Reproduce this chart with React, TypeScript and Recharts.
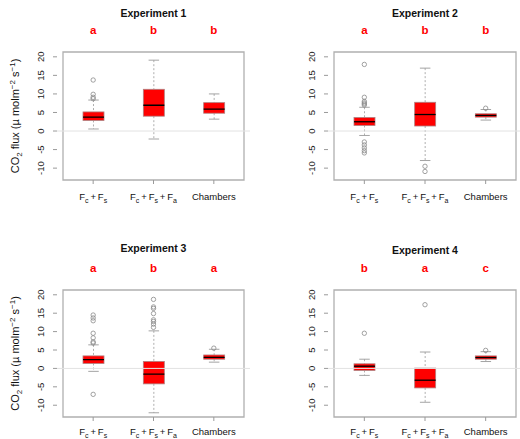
import React from "react";
import {
  ComposedChart,
  Bar,
  Scatter,
  XAxis,
  YAxis,
  ReferenceLine,
  ReferenceArea,
} from "recharts";

const FONT = "'Liberation Sans', Arial, Helvetica, sans-serif";

const categories = ["Fc+Fs", "Fc+Fs+Fa", "Chambers"];
const yTicks = [-10, -5, 0, 5, 10, 15, 20];
const yDomain: [number, number] = [-13.2, 21.3];

// [lower whisker, q1, median, q3, upper whisker] per category
const exp1Box = [
  [0.55, 2.85, 3.75, 5.15, 8.35],
  [-2.15, 4.0, 6.95, 11.25, 19.1],
  [3.2, 4.8, 5.9, 7.65, 10.0],
];
const exp1Outliers = [[13.75, 9.9, 9.1, 8.7], [], []];
const exp1Letters = ["a", "b", "b"];

const exp2Box = [
  [-1.2, 1.5, 2.5, 3.65, 6.4],
  [-7.95, 1.35, 4.45, 7.75, 16.95],
  [2.95, 3.75, 4.2, 4.65, 5.8],
];
const exp2Outliers = [
  [17.95, 9.1, 8.0, 7.6, 7.3, 7.0, -2.95, -3.75, -4.55, -5.3, -5.9],
  [-9.5, -10.9],
  [6.15],
];
const exp2Letters = ["a", "b", "b"];

const exp3Box = [
  [-0.8, 1.35, 2.4, 3.4, 6.4],
  [-12.05, -4.2, -1.55, 1.9, 10.2],
  [1.7, 2.5, 3.0, 3.65, 5.2],
];
const exp3Outliers = [
  [14.5, 13.7, 12.95, 9.55, 8.3, 7.2, 6.9, -7.05],
  [18.75, 16.7, 16.3, 14.9, 13.2, 12.75, 12.05, 11.15],
  [5.5],
];
const exp3Letters = ["a", "b", "a"];

const exp4Box = [
  [-1.9, -0.55, 0.6, 1.25, 2.5],
  [-9.2, -5.3, -3.2, 0.08, 4.45],
  [1.87, 2.5, 2.95, 3.4, 4.55],
];
const exp4Outliers = [[9.55], [17.3], [4.9]];
const exp4Letters = ["b", "a", "c"];

const GREY = "#9a9a9a";

function BoxShape(props: any) {
  const { x, y, width, height, payload } = props;
  if (!payload) return null;
  const top = Math.min(y, y + height);
  const h = Math.abs(height);
  const { lo, q1, med, q3, hi } = payload;
  const k = h / (hi - lo);
  const py = (v: number) => top + (hi - v) * k;
  const cx = x + width / 2;
  const cap = width / 4;
  return (
    <g>
      <line x1={cx} x2={cx} y1={py(hi)} y2={py(q3)} stroke={GREY} strokeWidth={0.8} strokeDasharray="2 2" />
      <line x1={cx} x2={cx} y1={py(q1)} y2={py(lo)} stroke={GREY} strokeWidth={0.8} strokeDasharray="2 2" />
      <line x1={cx - cap} x2={cx + cap} y1={py(hi)} y2={py(hi)} stroke={GREY} strokeWidth={0.9} />
      <line x1={cx - cap} x2={cx + cap} y1={py(lo)} y2={py(lo)} stroke={GREY} strokeWidth={0.9} />
      <rect x={x} y={py(q3)} width={width} height={py(q1) - py(q3)} fill="#ff0000" stroke="#b08080" strokeWidth={0.8} />
      <line x1={x} x2={x + width} y1={py(med)} y2={py(med)} stroke="#000" strokeWidth={1.3} />
    </g>
  );
}

function Outlier(props: any) {
  const { cx, cy } = props;
  if (cx == null || cy == null) return null;
  return <circle cx={cx} cy={cy} r={2.2} fill="none" stroke="#8a8a8a" strokeWidth={0.8} />;
}

function catParts(name: string): any[] {
  if (name === "Chambers") return [<tspan key="c">Chambers</tspan>];
  const subs = name === "Fc+Fs" ? ["c", "s"] : ["c", "s", "a"];
  const out: any[] = [];
  subs.forEach((s, i) => {
    const back = i > 0 ? -2.5 : 0;
    out.push(
      <tspan key={"f" + i} dy={back}>
        {i > 0 ? "\u2009+\u2009F" : "F"}
      </tspan>
    );
    out.push(
      <tspan key={"s" + i} dy={2.5} fontSize={7}>
        {s}
      </tspan>
    );
  });
  return out;
}

function makeXTick(letters: string[], plotH: number, labelDy: number) {
  return (props: any) => {
    const { x, y, payload } = props;
    const idx = categories.indexOf(payload.value);
    const axisY = y - 7;
    return (
      <g>
        <text x={x} y={y + labelDy} textAnchor="middle" fontSize={9.5} fill="#111" fontFamily={FONT}>
          {catParts(payload.value)}
        </text>
        <text
          x={x}
          y={axisY - plotH - 18}
          textAnchor="middle"
          fontSize={11.5}
          fontWeight="bold"
          fill="#ff0000"
          fontFamily={FONT}
        >
          {letters[idx]}
        </text>
      </g>
    );
  };
}

function YTick(props: any) {
  const { x, y, payload } = props;
  const bx = x - 6.5;
  return (
    <text
      x={bx}
      y={y}
      transform={`rotate(-90 ${bx} ${y})`}
      textAnchor="middle"
      fontSize={9.5}
      fill="#222"
      fontFamily={FONT}
    >
      {payload.value}
    </text>
  );
}

function YLabel({ cx, cy }: { cx: number; cy: number }) {
  return (
    <text
      x={cx}
      y={cy}
      transform={`rotate(-90 ${cx} ${cy})`}
      textAnchor="middle"
      fontSize={11}
      fill="#111"
      fontFamily={FONT}
    >
      CO
      <tspan dy={3} fontSize={8}>2</tspan>
      <tspan dy={-3}> flux (µ molm</tspan>
      <tspan dy={-4} fontSize={8}>−2</tspan>
      <tspan dy={4}> s</tspan>
      <tspan dy={-4} fontSize={8}>−1</tspan>
      <tspan dy={4}>)</tspan>
    </text>
  );
}

interface PanelProps {
  title: string;
  boxes: number[][];
  outliers: number[][];
  letters: string[];
  left: number;
  top: number;
  width: number;
  height: number;
  marginTop: number;
  marginRight: number;
  yAxisWidth: number;
  xAxisHeight: number;
  titleY: number;
  labelDy: number;
  yLabel?: boolean;
}

function Panel(p: PanelProps) {
  const data = categories.map((cat, i) => ({
    cat,
    lo: p.boxes[i][0],
    q1: p.boxes[i][1],
    med: p.boxes[i][2],
    q3: p.boxes[i][3],
    hi: p.boxes[i][4],
  }));
  const points = categories.flatMap((cat, i) => p.outliers[i].map((v) => ({ cat, v })));
  const plotH = p.height - p.marginTop - p.xAxisHeight;
  const plotW = p.width - p.yAxisWidth - p.marginRight;
  return (
    <div style={{ position: "absolute", left: p.left, top: p.top, width: p.width, height: p.height }}>
      <div
        style={{
          position: "absolute",
          left: p.yAxisWidth,
          width: plotW,
          top: p.titleY - 6,
          height: 12,
          lineHeight: "12px",
          textAlign: "center",
          fontFamily: FONT,
          fontWeight: "bold",
          fontSize: 10.5,
          color: "#111",
        }}
      >
        {p.title}
      </div>
      <ComposedChart
        width={p.width}
        height={p.height}
        data={data}
        margin={{ top: p.marginTop, right: p.marginRight, left: 0, bottom: 0 }}
      >
        <XAxis
          dataKey="cat"
          type="category"
          allowDuplicatedCategory={false}
          height={p.xAxisHeight}
          padding={{ left: 6, right: 6 }}
          axisLine={false}
          tickSize={4}
          tickMargin={3}
          tickLine={{ stroke: GREY }}
          tick={makeXTick(p.letters, plotH, p.labelDy)}
          interval={0}
        />
        <YAxis
          domain={yDomain}
          allowDataOverflow
          ticks={yTicks}
          interval={0}
          width={p.yAxisWidth}
          axisLine={false}
          tickSize={4}
          tickMargin={2}
          tickLine={{ stroke: GREY }}
          tick={<YTick />}
          label={
            p.yLabel
              ? { content: () => <YLabel cx={19} cy={p.marginTop + plotH / 2} /> }
              : undefined
          }
        />
        <ReferenceLine y={0} stroke="#e2e2e2" strokeWidth={1} />
        <Bar
          dataKey={(d: any) => [d.lo, d.hi]}
          barSize={21}
          shape={<BoxShape />}
          isAnimationActive={false}
        />
        <Scatter data={points} dataKey="v" shape={<Outlier />} isAnimationActive={false} />
        <ReferenceArea
          y1={yDomain[0]}
          y2={yDomain[1]}
          fill="none"
          stroke="#b0b0b0"
          strokeWidth={1.3}
          fillOpacity={0}
        />
      </ComposedChart>
    </div>
  );
}

export default function App() {
  return (
    <div
      style={{
        position: "absolute",
        left: 0,
        top: 0,
        width: 520,
        height: 439,
        overflow: "hidden",
        background: "#fff",
      }}
    >
      <Panel
        title="Experiment 1"
        boxes={exp1Box}
        outliers={exp1Outliers}
        letters={exp1Letters}
        left={0}
        top={0}
        width={260}
        height={220}
        marginTop={52}
        marginRight={10}
        yAxisWidth={57}
        xAxisHeight={40}
        titleY={12.5}
        labelDy={13}
        yLabel
      />
      <Panel
        title="Experiment 2"
        boxes={exp2Box}
        outliers={exp2Outliers}
        letters={exp2Letters}
        left={260}
        top={0}
        width={262}
        height={220}
        marginTop={52}
        marginRight={0}
        yAxisWidth={68}
        xAxisHeight={40}
        titleY={12.8}
        labelDy={13}
      />
      <Panel
        title="Experiment 3"
        boxes={exp3Box}
        outliers={exp3Outliers}
        letters={exp3Letters}
        left={0}
        top={220}
        width={260}
        height={219}
        marginTop={70}
        marginRight={10}
        yAxisWidth={57}
        xAxisHeight={22}
        titleY={27.5}
        labelDy={11}
        yLabel
      />
      <Panel
        title="Experiment 4"
        boxes={exp4Box}
        outliers={exp4Outliers}
        letters={exp4Letters}
        left={260}
        top={220}
        width={262}
        height={219}
        marginTop={70}
        marginRight={0}
        yAxisWidth={68}
        xAxisHeight={22}
        titleY={29.5}
        labelDy={11}
      />
    </div>
  );
}
